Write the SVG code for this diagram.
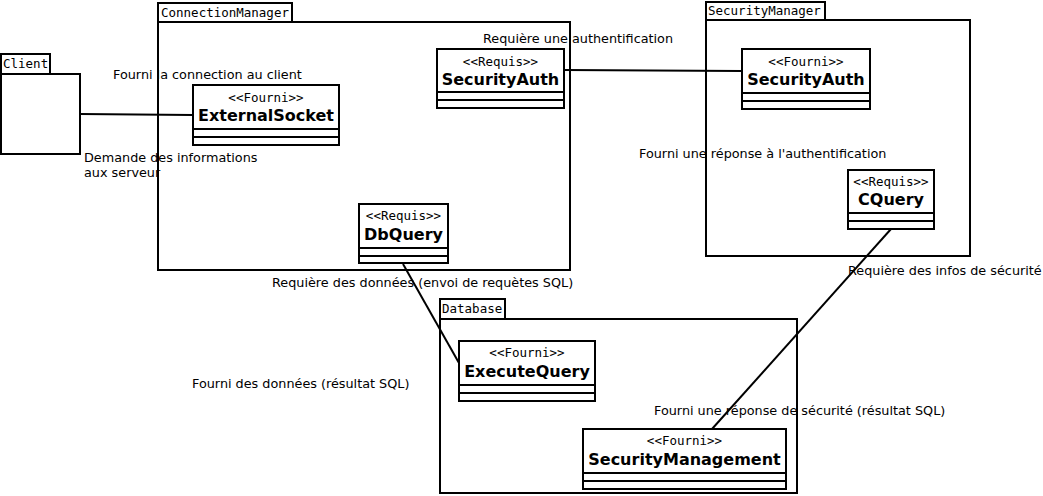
<svg xmlns="http://www.w3.org/2000/svg" width="1043" height="496" viewBox="0 0 1043 496">
<style>
.pk{fill:#fff;stroke:#000;stroke-width:2}
.cl{fill:#fff;stroke:#000;stroke-width:2}
.ln{stroke:#000;stroke-width:2;fill:none}
.tab{font-family:"DejaVu Sans Mono","Liberation Mono",monospace;font-size:12.5px;fill:#000}
.st{font-family:"DejaVu Sans Mono","Liberation Mono",monospace;font-size:12.5px;fill:#000;text-anchor:middle}
.nm{font-family:"DejaVu Sans","Liberation Sans",sans-serif;font-size:16px;font-weight:bold;fill:#000;text-anchor:middle}
.lb{font-family:"DejaVu Sans","Liberation Sans",sans-serif;font-size:12.8px;fill:#000}
</style>
<rect width="1043" height="496" fill="#fff"/>
<g id="client">
<rect class="pk" x="1" y="54" width="49" height="20"/>
<rect class="pk" x="1" y="74" width="79" height="80"/>
<text class="tab" x="3" y="68">Client</text>
</g>
<g id="connectionManager">
<rect class="pk" x="158" y="3" width="134" height="19"/>
<rect class="pk" x="158" y="22" width="412" height="248"/>
<text class="tab" x="161" y="17">ConnectionManager</text>
</g>
<g id="securityManager">
<rect class="pk" x="706" y="2" width="119" height="18"/>
<rect class="pk" x="706" y="20" width="264" height="236"/>
<text class="tab" x="708" y="15">SecurityManager</text>
</g>
<g id="database">
<rect class="pk" x="440" y="299" width="65" height="20"/>
<rect class="pk" x="440" y="319" width="357" height="174"/>
<text class="tab" x="442" y="313">Database</text>
</g>
<g id="connectors">
<line class="ln" x1="80" y1="114" x2="193" y2="115"/>
<line class="ln" x1="564" y1="70" x2="742" y2="71"/>
<line class="ln" x1="403" y1="264" x2="459" y2="363"/>
<line class="ln" x1="891" y1="229" x2="712" y2="429"/>
</g>
<g id="externalSocket">
<rect class="cl" x="193" y="85" width="146" height="60"/>
<line class="ln" x1="193" y1="129" x2="339" y2="129"/>
<line class="ln" x1="193" y1="137" x2="339" y2="137"/>
<text class="st" x="266" y="102">&lt;&lt;Fourni&gt;&gt;</text>
<text class="nm" x="266" y="121">ExternalSocket</text>
</g>
<g id="securityAuthRequis">
<rect class="cl" x="437" y="49" width="127" height="59"/>
<line class="ln" x1="437" y1="92" x2="564" y2="92"/>
<line class="ln" x1="437" y1="100" x2="564" y2="100"/>
<text class="st" x="500.5" y="66">&lt;&lt;Requis&gt;&gt;</text>
<text class="nm" x="500.5" y="85">SecurityAuth</text>
</g>
<g id="dbQuery">
<rect class="cl" x="359" y="204" width="89" height="59"/>
<line class="ln" x1="359" y1="248" x2="448" y2="248"/>
<line class="ln" x1="359" y1="256" x2="448" y2="256"/>
<text class="st" x="403.5" y="220">&lt;&lt;Requis&gt;&gt;</text>
<text class="nm" x="403.5" y="240">DbQuery</text>
</g>
<g id="securityAuthFourni">
<rect class="cl" x="742" y="49" width="128" height="60"/>
<line class="ln" x1="742" y1="93" x2="870" y2="93"/>
<line class="ln" x1="742" y1="101" x2="870" y2="101"/>
<text class="st" x="806" y="66">&lt;&lt;Fourni&gt;&gt;</text>
<text class="nm" x="806" y="85">SecurityAuth</text>
</g>
<g id="cQuery">
<rect class="cl" x="848" y="170" width="86" height="59"/>
<line class="ln" x1="848" y1="213" x2="934" y2="213"/>
<line class="ln" x1="848" y1="221" x2="934" y2="221"/>
<text class="st" x="891" y="186">&lt;&lt;Requis&gt;&gt;</text>
<text class="nm" x="891" y="205">CQuery</text>
</g>
<g id="executeQuery">
<rect class="cl" x="459" y="341" width="136" height="60"/>
<line class="ln" x1="459" y1="385" x2="595" y2="385"/>
<line class="ln" x1="459" y1="393" x2="595" y2="393"/>
<text class="st" x="527" y="357">&lt;&lt;Fourni&gt;&gt;</text>
<text class="nm" x="527" y="377">ExecuteQuery</text>
</g>
<g id="securityManagement">
<rect class="cl" x="583" y="429" width="203" height="60"/>
<line class="ln" x1="583" y1="473" x2="786" y2="473"/>
<line class="ln" x1="583" y1="481" x2="786" y2="481"/>
<text class="st" x="684.5" y="445">&lt;&lt;Fourni&gt;&gt;</text>
<text class="nm" x="684.5" y="465">SecurityManagement</text>
</g>
<g id="labels">
<text class="lb" x="113" y="79">Fourni la connection au client</text>
<text class="lb" x="84" y="162">Demande des informations</text>
<text class="lb" x="84" y="177">aux serveur</text>
<text class="lb" x="483" y="43">Requière une authentification</text>
<text class="lb" x="639" y="158">Fourni une réponse à l'authentification</text>
<text class="lb" x="848" y="275">Requière des infos de sécurité</text>
<text class="lb" x="272" y="287">Requière des données (envoi de requètes SQL)</text>
<text class="lb" x="192" y="388">Fourni des données (résultat SQL)</text>
<text class="lb" x="654" y="415">Fourni une réponse de sécurité (résultat SQL)</text>
</g>
</svg>
